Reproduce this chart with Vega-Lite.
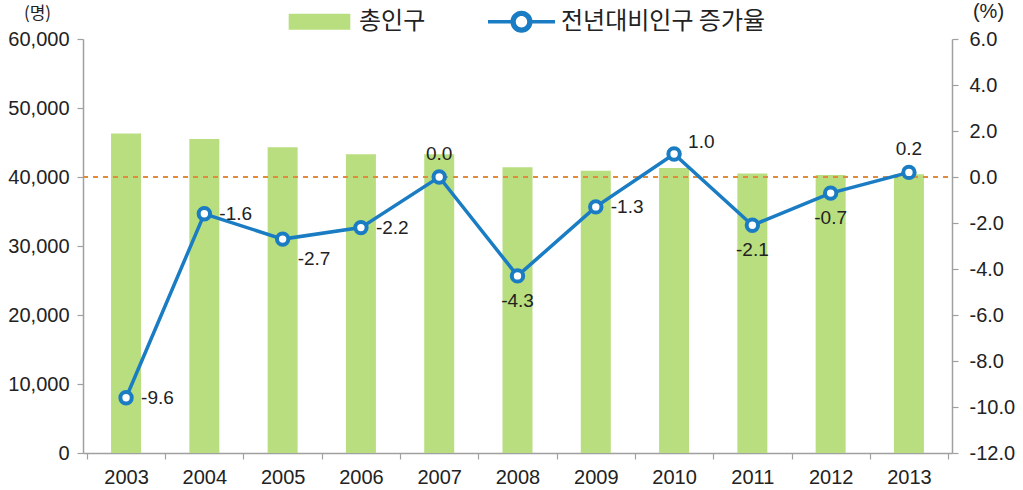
{
  "$schema": "https://vega.github.io/schema/vega-lite/v6.json",
  "width": 869,
  "height": 414,
  "autosize": "none",
  "padding": {"left": 83, "top": 39, "right": 71, "bottom": 37},
  "background": "white",
  "config": {
    "view": {"stroke": null},
    "font": "Liberation Sans",
    "axis": {"grid": false, "domainColor": "#a0a0a0", "tickColor": "#a0a0a0", "labelColor": "#222222", "labelFont": "Liberation Sans", "labelFontSize": 20, "tickSize": 6, "domainWidth": 1.5, "tickWidth": 1.2}
  },
  "data": {
    "values": [
      {"year": "2003", "pop": 46300, "rate": -9.6},
      {"year": "2004", "pop": 45500, "rate": -1.6},
      {"year": "2005", "pop": 44300, "rate": -2.7},
      {"year": "2006", "pop": 43300, "rate": -2.2},
      {"year": "2007", "pop": 43300, "rate": 0.0},
      {"year": "2008", "pop": 41400, "rate": -4.3},
      {"year": "2009", "pop": 40900, "rate": -1.3},
      {"year": "2010", "pop": 41300, "rate": 1.0},
      {"year": "2011", "pop": 40500, "rate": -2.1},
      {"year": "2012", "pop": 40300, "rate": -0.7},
      {"year": "2013", "pop": 40400, "rate": 0.2}
    ]
  },
  "encoding": {
    "x": {
      "field": "year", "type": "ordinal",
      "scale": {"paddingInner": 0, "paddingOuter": 0.05},
      "axis": {"title": null, "labelAngle": 0, "tickBand": "extent", "labelPadding": 8}
    }
  },
  "layer": [
    {
      "mark": {"type": "bar", "width": 30},
      "encoding": {
        "y": {
          "field": "pop", "type": "quantitative",
          "scale": {"domain": [0, 60000], "nice": false},
          "axis": {"values": [0, 10000, 20000, 30000, 40000, 50000, 60000], "format": ",.0f", "labelPadding": 8,
            "title": "(명)", "titleAngle": 0, "titleX": -46, "titleY": -26, "titleAlign": "center", "titleBaseline": "middle",
            "titleFont": "Noto Sans CJK KR", "titleFontSize": 17, "titleFontWeight": "normal", "titleColor": "#222222"}
        },
        "color": {
          "datum": "총인구", "type": "nominal",
          "scale": {"domain": ["총인구", "전년대비인구 증가율"], "range": ["#b8de80", "#1a7cc3"]},
          "legend": {
            "orient": "none", "direction": "horizontal", "legendX": 203, "legendY": -51, "padding": 0,
            "title": null, "labelFont": "Noto Sans CJK KR", "labelFontSize": 24, "labelColor": "#222222", "labelLimit": 0,
            "symbolSize": 4489, "labelOffset": 6, "columnPadding": 62,
            "encode": {
              "symbols": {
                "update": {
                  "shape": {"signal": "datum.value === '총인구' ? 'M-0.92,-0.24H0.92V0.24H-0.92Z' : 'M-1,-0.05H-0.3V0.05H-1Z M0.3,-0.05H1V0.05H0.3Z M-0.33,0A0.33,0.33 0 1,1 0.33,0A0.33,0.33 0 1,1 -0.33,0Z M-0.17,0A0.17,0.17 0 1,0 0.17,0A0.17,0.17 0 1,0 -0.17,0Z'"},
                  "strokeWidth": {"value": 0},
                  "opacity": {"value": 1},
                  "fillOpacity": {"value": 1}
                }
              }
            }
          }
        }
      }
    },
    {
      "encoding": {
        "y": {
          "field": "rate", "type": "quantitative",
          "scale": {"domain": [-12, 6], "nice": false},
          "axis": {"orient": "right", "values": [-12, -10, -8, -6, -4, -2, 0, 2, 4, 6], "labelExpr": "replace(format(datum.value, '.1f'), '\u2212', '-')", "labelPadding": 11,
            "title": "(%)", "titleAngle": 0, "titleX": 36, "titleY": -22, "titleAlign": "center", "titleBaseline": "alphabetic",
            "titleFont": "Liberation Sans", "titleFontSize": 20, "titleFontWeight": "normal", "titleColor": "#222222"}
        }
      },
      "layer": [
        {
          "mark": {"type": "rule", "color": "#e08a3c", "strokeDash": [5, 5], "strokeWidth": 1.5},
          "encoding": {"y": {"datum": 0, "type": "quantitative"}, "x": {"value": 0}, "x2": {"value": 869}}
        },
        {
          "mark": {"type": "line", "strokeWidth": 3.5},
          "encoding": {
            "color": {"datum": "전년대비인구 증가율", "type": "nominal"}
          }
        },
        {
          "mark": {"type": "point", "filled": false, "fill": "white", "fillOpacity": 1, "opacity": 1, "stroke": "#1a7cc3", "strokeWidth": 4, "size": 130}
        },
        {
          "transform": [{"filter": {"field": "year", "oneOf": ["2003", "2004", "2006", "2009"]}}],
          "mark": {"type": "text", "align": "left", "baseline": "middle", "dx": 15, "dy": 0, "fontSize": 19, "color": "#222222", "text": {"expr": "replace(format(datum.rate, '.1f'), '\u2212', '-')"}}
        },
        {
          "transform": [{"filter": {"field": "year", "oneOf": ["2005"]}}],
          "mark": {"type": "text", "align": "left", "baseline": "middle", "dx": 15, "dy": 20, "fontSize": 19, "color": "#222222", "text": {"expr": "replace(format(datum.rate, '.1f'), '\u2212', '-')"}}
        },
        {
          "transform": [{"filter": {"field": "year", "oneOf": ["2010"]}}],
          "mark": {"type": "text", "align": "left", "baseline": "middle", "dx": 14, "dy": -12, "fontSize": 19, "color": "#222222", "text": {"expr": "replace(format(datum.rate, '.1f'), '\u2212', '-')"}}
        },
        {
          "transform": [{"filter": {"field": "year", "oneOf": ["2007", "2013"]}}],
          "mark": {"type": "text", "align": "center", "baseline": "middle", "dx": 0, "dy": -23, "fontSize": 19, "color": "#222222", "text": {"expr": "replace(format(datum.rate, '.1f'), '\u2212', '-')"}}
        },
        {
          "transform": [{"filter": {"field": "year", "oneOf": ["2008", "2011", "2012"]}}],
          "mark": {"type": "text", "align": "center", "baseline": "middle", "dx": 0, "dy": 25, "fontSize": 19, "color": "#222222", "text": {"expr": "replace(format(datum.rate, '.1f'), '\u2212', '-')"}}
        }
      ]
    }
  ],
  "resolve": {"scale": {"y": "independent"}}
}
